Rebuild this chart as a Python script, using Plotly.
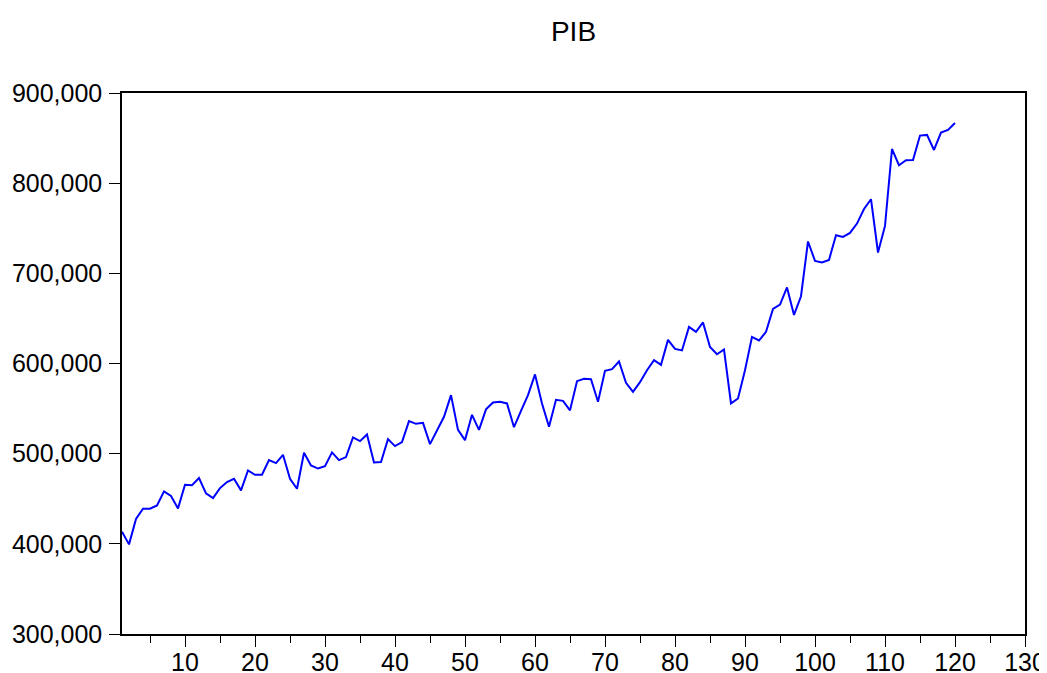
import plotly.graph_objects as go

periods = list(range(1, 121))
pib = [
    413400, 399400, 427500, 438900, 438900, 442600, 458200, 453000, 439300, 465500,
    465100, 472900, 456000, 450700, 461800, 468500, 472100, 459300, 481400, 476600,
    476600, 492900, 489500, 498700, 472100, 461100, 501000, 487000, 483500, 486200,
    501400, 492900, 496200, 518000, 513900, 521300, 490300, 490700, 516100, 508400,
    512800, 536100, 533100, 534200, 510600, 525300, 540900, 564900, 526400, 515000,
    543100, 526400, 549100, 556800, 557500, 555700, 529400, 547500, 564900, 587900,
    555700, 529800, 559700, 558600, 548000, 580400, 583000, 582600, 557500, 591800,
    593700, 602200, 578500, 568600, 579300, 592600, 603700, 598500, 626200, 616200,
    614500, 640600, 635100, 645500, 618300, 610300, 615500, 555700, 561200, 592600,
    629500, 625500, 635100, 660600, 665400, 684300, 653900, 674600, 735300, 713800,
    712000, 714900, 742300, 740400, 744800, 755200, 771400, 782200, 723100, 752600,
    837900, 819800, 825400, 825700, 852800, 853500, 836800, 856100, 859000, 866700,
]
x_ticks = list(range(10, 131, 10))
y_ticks = [300000, 400000, 500000, 600000, 700000, 800000, 900000]

fig = go.Figure()
fig.add_trace(go.Scatter(x=periods, y=pib, mode="lines",
                         line=dict(color="#0000FF", width=2),
                         hoverinfo="x+y", showlegend=False))

font_family = "Liberation Sans, Arial, sans-serif"
W, H = 1039, 665
fig.update_layout(
    width=W, height=H,
    margin=dict(l=114, r=22, t=85, b=39, autoexpand=False),
    paper_bgcolor="white", plot_bgcolor="white",
    title=dict(text="PIB", x=0.5, xref="paper", xanchor="center",
               y=1 - 23 / H, yref="container", yanchor="middle",
               font=dict(family=font_family, size=28, color="black")),
    font=dict(family=font_family, color="black"),
)
fig.update_xaxes(
    range=[1, 130], tickvals=x_ticks, ticktext=[str(v) for v in x_ticks],
    ticks="outside", ticklen=11, tickwidth=1, tickcolor="black",
    minor=dict(dtick=5, tick0=0, ticks="outside", ticklen=7, tickcolor="black", tickwidth=1),
    showline=True, linecolor="black", linewidth=1.5, mirror=True,
    showgrid=False, zeroline=False, automargin=False, ticklabelstandoff=-6,
    tickfont=dict(size=25, family=font_family, color="black"),
)
fig.update_yaxes(
    range=[300000, 900000], tickvals=y_ticks,
    ticktext=[f"{v:,}" for v in y_ticks],
    ticks="outside", ticklen=11, tickwidth=1, tickcolor="black",
    showline=True, linecolor="black", linewidth=1.5, mirror=True,
    showgrid=False, zeroline=False, automargin=False, ticklabelstandoff=2,
    tickfont=dict(size=25, family=font_family, color="black"),
)
fig.write_html("out.html")
